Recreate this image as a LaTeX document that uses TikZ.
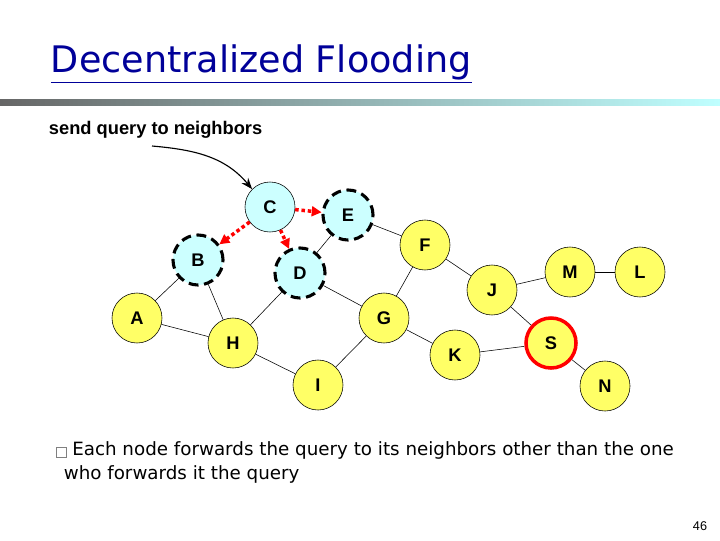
\documentclass[tikz,border=0pt]{standalone}
\usepackage{fontspec}
\setmainfont{Liberation Sans}
\newfontfamily\titlefont{DejaVu Sans}
\usetikzlibrary{arrows.meta,positioning}
\definecolor{nodeyellow}{RGB}{255,255,102}
\definecolor{nodeblue}{RGB}{204,255,255}
\definecolor{titleblue}{RGB}{0,0,153}
\tikzstyle{peer} = [circle, draw, fill=nodeyellow, minimum size=1.25cm, font=\bfseries\fontsize{13}{15}\selectfont, inner sep=0pt]
\tikzstyle{visited} = [peer, fill=nodeblue, line width=2.2pt, dash pattern=on 7pt off 4pt]
\tikzstyle{link} = [thin]
\tikzstyle{query} = [red, line width=2.5pt, dotted, -{Triangle[length=7pt,width=7pt]}]

\begin{document}
\begin{tikzpicture}[x=0.025cm, y=-0.025cm]
\useasboundingbox (0,0) rectangle (720,540);
% title and bar
\node[anchor=west, text=titleblue, font=\titlefont\fontsize{26}{30}\selectfont] (title) at (46,64) {\underline{Decentralized Flooding}};
\shade[left color=gray!80!black, right color=cyan!25] (0,99) rectangle (720,105);
\node[anchor=west, font=\bfseries\fontsize{13}{15}\selectfont] (note) at (44,130) {send query to neighbors};
% peers
\node[peer] (A) at (137,318) {A};
\node[visited] (B) at (198,260) {B};
\node[peer, fill=nodeblue] (C) at (270,207) {C};
\node[visited] (D) at (300,273) {D};
\node[visited] (E) at (348,215) {E};
\node[peer] (F) at (425,245) {F};
\node[peer] (G) at (384,318) {G};
\node[peer] (H) at (233,343) {H};
\node[peer] (I) at (318,385) {I};
\node[peer] (J) at (492,290) {J};
\node[peer] (K) at (455,355) {K};
\node[peer] (M) at (570,272) {M};
\node[peer] (L) at (640,272) {L};
\node[peer, draw=red, line width=2.5pt] (S) at (551,343) {S};
\node[peer] (N) at (605,386) {N};
% links
\foreach \u/\v in {A/B,A/H,B/H,H/D,D/E,D/G,E/F,F/G,F/J,J/M,M/L,J/S,G/K,G/I,H/I,K/S,S/N}
  \draw[link] (\u) -- (\v);
% query messages
\draw[query] (C) -- (E);
\draw[query] (C) -- (B);
\draw[query] (C) -- (D);
\coordinate (tail) at (152,146);
\draw[-{Stealth[length=8pt]}, thick] (tail) to[out=-5,in=130] (C.north west);
% text
\node[fill=white, draw=gray, minimum size=7pt, inner sep=0pt] (bullet) at (61,452) {};
\node[anchor=north west, align=left, font=\titlefont\fontsize{13}{17}\selectfont, inner sep=0pt] (text) at (72,441) {Each node forwards the query to its neighbors other than the one\\\hspace*{-6pt}who forwards it the query};
\node[anchor=east, font=\small] (page) at (712,526) {46};
\end{tikzpicture}
\end{document}
